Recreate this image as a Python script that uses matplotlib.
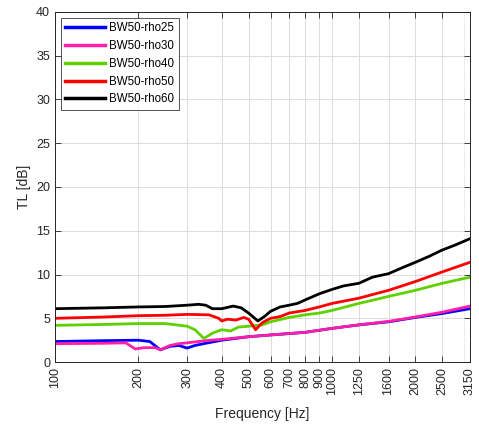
import matplotlib
matplotlib.use("Agg")
import matplotlib.pyplot as plt
import numpy as np

plt.rcParams['font.family'] = ['Liberation Sans', 'DejaVu Sans']

xticks = [100, 200, 300, 400, 500, 600, 700, 800, 900, 1000, 1250, 1600, 2000, 2500, 3150]
yticks = [0, 5, 10, 15, 20, 25, 30, 35, 40]

f_black = [100, 150, 200, 250, 300, 330, 350, 370, 400, 440, 470, 500, 540, 570, 600, 650, 700, 750, 800, 900, 1000, 1100, 1250, 1400, 1600, 1800, 2000, 2250, 2500, 2800, 3150]
tl_black = [6.1, 6.2, 6.3, 6.35, 6.5, 6.6, 6.5, 6.1, 6.1, 6.4, 6.2, 5.6, 4.7, 5.2, 5.8, 6.3, 6.5, 6.7, 7.1, 7.8, 8.3, 8.7, 9.0, 9.7, 10.1, 10.8, 11.4, 12.1, 12.8, 13.4, 14.1]

f_red = [100, 150, 200, 250, 300, 360, 390, 400, 420, 450, 480, 500, 530, 560, 600, 650, 700, 800, 900, 1000, 1250, 1600, 2000, 2500, 3150]
tl_red = [5.0, 5.15, 5.3, 5.35, 5.45, 5.4, 5.0, 4.7, 4.9, 4.8, 5.1, 4.9, 3.7, 4.5, 5.0, 5.2, 5.6, 5.9, 6.3, 6.7, 7.3, 8.2, 9.2, 10.3, 11.4]

f_green = [100, 150, 200, 250, 300, 320, 345, 370, 400, 430, 460, 500, 560, 600, 700, 800, 900, 1000, 1250, 1600, 2000, 2500, 3150]
tl_green = [4.2, 4.3, 4.4, 4.4, 4.1, 3.7, 2.7, 3.3, 3.7, 3.55, 4.0, 4.1, 4.25, 4.6, 5.1, 5.4, 5.6, 5.9, 6.7, 7.5, 8.2, 9.0, 9.7]

f_blue = [100, 150, 200, 220, 240, 260, 280, 300, 320, 350, 400, 500, 600, 800, 1000, 1250, 1600, 2000, 2500, 3150]
tl_blue = [2.35, 2.45, 2.5, 2.35, 1.4, 1.8, 1.9, 1.6, 1.9, 2.15, 2.5, 2.9, 3.1, 3.4, 3.85, 4.25, 4.6, 5.1, 5.55, 6.1]

f_pink = [100, 150, 180, 195, 210, 230, 240, 260, 280, 300, 350, 400, 500, 600, 800, 1000, 1250, 1600, 2000, 2500, 3150]
tl_pink = [2.1, 2.15, 2.2, 1.5, 1.65, 1.65, 1.4, 1.9, 2.1, 2.2, 2.45, 2.6, 2.9, 3.1, 3.4, 3.85, 4.25, 4.65, 5.15, 5.7, 6.4]

labels = ['BW50-rho25', 'BW50-rho30', 'BW50-rho40', 'BW50-rho50', 'BW50-rho60']
colors = ['#0000FF', '#FF1FA8', '#5FD000', '#FF0000', '#000000']

fig = plt.figure(figsize=(4.79, 4.25), dpi=100)
ax = fig.add_axes([0.1148, 0.148, 0.8664, 0.824])

series = [(f_blue, tl_blue), (f_pink, tl_pink), (f_green, tl_green), (f_red, tl_red), (f_black, tl_black)]
for (f, tl), lab, c in zip(series, labels, colors):
    ax.plot(f, tl, color=c, lw=2, label=lab)

ax.set_xscale('log')
ax.set_xlim(100, 3150)
ax.set_ylim(0, 40)
ax.set_xticks(xticks)
ax.set_xticklabels([str(t) for t in xticks], rotation=90)
ax.minorticks_off()
ax.set_yticks(yticks)
ax.grid(True, color='#DCDCDC', lw=0.7)
ax.axvline(3000, color='#C8C8C8', lw=0.6, ls=':', zorder=0)
ax.set_axisbelow(True)

gray = '#262626'
ax.tick_params(direction='in', top=True, right=True, labelsize=9, colors=gray, length=4, width=0.6)
for s in ax.spines.values():
    s.set_color(gray)
    s.set_linewidth(0.7)
ax.set_xlabel('Frequency [Hz]', fontsize=10, color=gray, labelpad=9)
ax.set_ylabel('TL [dB]', fontsize=10, color=gray)

leg = ax.legend(loc='upper left', fontsize=8.3, frameon=True, fancybox=False,
                edgecolor='#262626', handlelength=3.4, handletextpad=0.4,
                borderaxespad=0.5, labelspacing=0.5, borderpad=0.4)
leg.get_frame().set_linewidth(0.7)
for line in leg.get_lines():
    line.set_linewidth(2.5)

fig.savefig('out.png', dpi=100)
